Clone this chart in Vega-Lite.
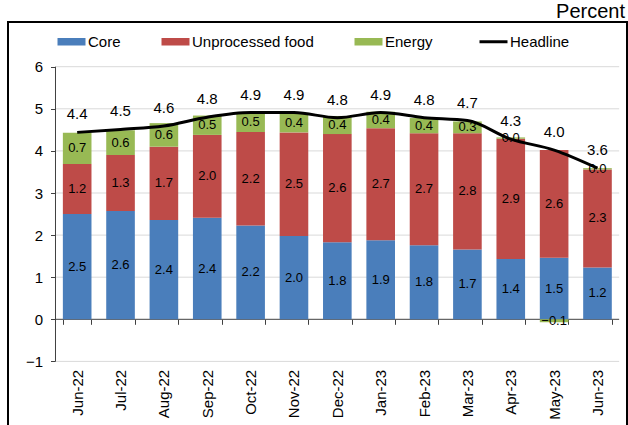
{
  "$schema": "https://vega.github.io/schema/vega-lite/v6.json",
  "autosize": "none",
  "padding": {"left": 8, "top": 22, "right": 1, "bottom": 0},
  "width": 619,
  "height": 404,
  "title": {"text": "Percent", "anchor": "end", "frame": "group", "fontSize": 20, "fontWeight": "normal", "font": "Liberation Sans", "color": "#000000", "offset": 0, "dx": -2},
  "config": {
    "view": {"stroke": "#000000", "strokeWidth": 2},
    "font": "Liberation Sans",
    "axis": {"labelFont": "Liberation Sans", "labelColor": "#000000", "labelFontSize": 15, "tickColor": "#404040", "grid": false, "domain": false, "title": null}
  },
  "datasets": {
    "components": [
      {"month": "Jun-22", "series": "Core", "value": 2.50},
      {"month": "Jun-22", "series": "Unprocessed food", "value": 1.19},
      {"month": "Jun-22", "series": "Energy", "value": 0.74},
      {"month": "Jul-22", "series": "Core", "value": 2.57},
      {"month": "Jul-22", "series": "Unprocessed food", "value": 1.33},
      {"month": "Jul-22", "series": "Energy", "value": 0.59},
      {"month": "Aug-22", "series": "Core", "value": 2.36},
      {"month": "Aug-22", "series": "Unprocessed food", "value": 1.74},
      {"month": "Aug-22", "series": "Energy", "value": 0.56},
      {"month": "Sep-22", "series": "Core", "value": 2.41},
      {"month": "Sep-22", "series": "Unprocessed food", "value": 1.97},
      {"month": "Sep-22", "series": "Energy", "value": 0.46},
      {"month": "Oct-22", "series": "Core", "value": 2.23},
      {"month": "Oct-22", "series": "Unprocessed food", "value": 2.22},
      {"month": "Oct-22", "series": "Energy", "value": 0.47},
      {"month": "Nov-22", "series": "Core", "value": 1.98},
      {"month": "Nov-22", "series": "Unprocessed food", "value": 2.46},
      {"month": "Nov-22", "series": "Energy", "value": 0.44},
      {"month": "Dec-22", "series": "Core", "value": 1.83},
      {"month": "Dec-22", "series": "Unprocessed food", "value": 2.57},
      {"month": "Dec-22", "series": "Energy", "value": 0.43},
      {"month": "Jan-23", "series": "Core", "value": 1.88},
      {"month": "Jan-23", "series": "Unprocessed food", "value": 2.66},
      {"month": "Jan-23", "series": "Energy", "value": 0.39},
      {"month": "Feb-23", "series": "Core", "value": 1.76},
      {"month": "Feb-23", "series": "Unprocessed food", "value": 2.66},
      {"month": "Feb-23", "series": "Energy", "value": 0.36},
      {"month": "Mar-23", "series": "Core", "value": 1.66},
      {"month": "Mar-23", "series": "Unprocessed food", "value": 2.76},
      {"month": "Mar-23", "series": "Energy", "value": 0.28},
      {"month": "Apr-23", "series": "Core", "value": 1.43},
      {"month": "Apr-23", "series": "Unprocessed food", "value": 2.86},
      {"month": "Apr-23", "series": "Energy", "value": 0.03},
      {"month": "May-23", "series": "Core", "value": 1.46},
      {"month": "May-23", "series": "Unprocessed food", "value": 2.56},
      {"month": "May-23", "series": "Energy", "value": -0.07},
      {"month": "Jun-23", "series": "Core", "value": 1.23},
      {"month": "Jun-23", "series": "Unprocessed food", "value": 2.33},
      {"month": "Jun-23", "series": "Energy", "value": 0.03}
    ],
    "headline": [
      {"month": "Jun-22", "headline": 4.44},
      {"month": "Jul-22", "headline": 4.51},
      {"month": "Aug-22", "headline": 4.59},
      {"month": "Sep-22", "headline": 4.80},
      {"month": "Oct-22", "headline": 4.91},
      {"month": "Nov-22", "headline": 4.91},
      {"month": "Dec-22", "headline": 4.79},
      {"month": "Jan-23", "headline": 4.91},
      {"month": "Feb-23", "headline": 4.79},
      {"month": "Mar-23", "headline": 4.72},
      {"month": "Apr-23", "headline": 4.28},
      {"month": "May-23", "headline": 4.02},
      {"month": "Jun-23", "headline": 3.59}
    ],
    "grid": [
      {"g": -1}, {"g": 0}, {"g": 1}, {"g": 2}, {"g": 3}, {"g": 4}, {"g": 5}, {"g": 6}
    ],
    "yaxisline": [
      {"from": -1, "to": 6}
    ]
  },
  "layer": [
    {
      "data": {"name": "grid"},
      "mark": {"type": "rule", "strokeWidth": 1},
      "encoding": {
        "y": {"field": "g", "type": "quantitative",
          "scale": {"domain": [-2.5344, 7.0618], "nice": false, "zero": false},
          "axis": {"orient": "left", "offset": -47.5, "values": [-1, 0, 1, 2, 3, 4, 5, 6], "tickSize": 5, "labelPadding": 8, "title": null}},
        "x": {"datum": "Jun-22", "type": "nominal", "bandPosition": -0.2576},
        "x2": {"datum": "Jun-23", "bandPosition": 1.2576},
        "stroke": {"condition": {"test": "datum.g === 0", "value": "#404040"}, "value": "#d9d9d9"}
      }
    },
    {
      "data": {"name": "components"},
      "transform": [
        {"calculate": "indexof(['Core','Unprocessed food','Energy'], datum.series)", "as": "ord"}
      ],
      "mark": {"type": "bar"},
      "encoding": {
        "x": {"field": "month", "type": "nominal",
          "scale": {"domain": ["Jun-22","Jul-22","Aug-22","Sep-22","Oct-22","Nov-22","Dec-22","Jan-23","Feb-23","Mar-23","Apr-23","May-23","Jun-23"], "paddingInner": 0.34, "paddingOuter": 0.808, "align": 0.783},
          "axis": {"orient": "bottom", "offset": -106.7, "tickBand": "extent", "tickSize": 5, "labelAngle": 270, "labelPadding": 45, "title": null}},
        "y": {"field": "value", "type": "quantitative", "stack": "zero"},
        "color": {"field": "series", "type": "nominal",
          "scale": {"domain": ["Core", "Unprocessed food", "Energy", "Headline"], "range": ["#4a7ebb", "#be4b48", "#98b954", "#000000"]},
          "legend": {
            "orient": "none", "legendX": 56, "legendY": 12, "direction": "horizontal", "columns": 4,
            "columnPadding": 40, "title": null, "padding": 0,
            "labelFontSize": 15, "labelFont": "Liberation Sans", "labelColor": "#000000", "labelOffset": 9,
            "symbolSize": 784,
            "encode": {"symbols": {"update": {
              "shape": {"signal": "datum.value === 'Headline' ? 'stroke' : 'M-1,-0.268H1V0.268H-1Z'"},
              "fill": {"scale": "color", "field": "value"},
              "stroke": {"scale": "color", "field": "value"},
              "strokeWidth": {"signal": "datum.value === 'Headline' ? 3 : 0"},
              "size": {"value": 784},
              "opacity": {"value": 1},
              "fillOpacity": {"value": 1}
            }}}
          }},
        "order": {"field": "ord", "type": "quantitative"}
      }
    },
    {
      "data": {"name": "yaxisline"},
      "mark": {"type": "rule", "color": "#404040", "strokeWidth": 1},
      "encoding": {
        "y": {"field": "from", "type": "quantitative"},
        "y2": {"field": "to"},
        "x": {"datum": "Jun-22", "type": "nominal", "bandPosition": -0.2576}
      }
    },
    {
      "data": {"name": "headline"},
      "mark": {"type": "line", "strokeWidth": 3, "interpolate": "monotone"},
      "encoding": {
        "x": {"field": "month", "type": "nominal"},
        "y": {"field": "headline", "type": "quantitative"},
        "color": {"datum": "Headline"}
      }
    },
    {
      "data": {"name": "components"},
      "transform": [
        {"calculate": "indexof(['Core','Unprocessed food','Energy'], datum.series)", "as": "ord"},
        {"stack": "value", "groupby": ["month"], "sort": [{"field": "ord", "order": "ascending"}], "as": ["v0", "v1"]},
        {"calculate": "(datum.v0 + datum.v1) / 2", "as": "mid"}
      ],
      "mark": {"type": "text", "fontSize": 13, "font": "Liberation Sans", "color": "#000000", "baseline": "middle"},
      "encoding": {
        "x": {"field": "month", "type": "nominal"},
        "y": {"field": "mid", "type": "quantitative"},
        "text": {"field": "value", "type": "quantitative", "format": ".1f"}
      }
    },
    {
      "data": {"name": "headline"},
      "mark": {"type": "text", "fontSize": 15, "font": "Liberation Sans", "color": "#000000", "baseline": "middle", "dy": -18},
      "encoding": {
        "x": {"field": "month", "type": "nominal"},
        "y": {"field": "headline", "type": "quantitative"},
        "text": {"field": "headline", "type": "quantitative", "format": ".1f"}
      }
    }
  ]
}
